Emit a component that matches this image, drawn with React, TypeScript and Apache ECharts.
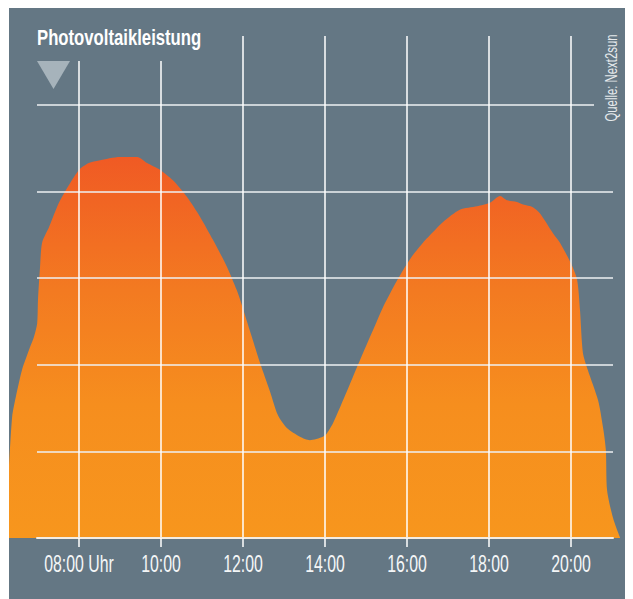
import React, { useEffect, useRef } from "react";
import * as echarts from "echarts";

// Time of day (hours) and PV output (in grid-line units)
const hours = [
  6.29, 6.37, 6.46, 6.61, 6.78, 6.9, 6.98, 7.0, 7.05, 7.1, 7.27, 7.51, 7.76, 8.0,
  8.24, 8.49, 9.0, 9.42, 9.66, 9.98, 10.29, 10.63, 10.95, 11.27, 11.61, 11.85, 11.93,
  12.17, 12.41, 12.66, 12.85, 13.07, 13.39, 13.63, 13.95, 14.05, 14.2, 14.44, 14.68,
  14.93, 15.17, 15.41, 15.66, 15.9, 16.15, 16.39, 16.63, 16.88, 17.29, 17.71, 18.02,
  18.27, 18.44, 18.68, 18.83, 19.07, 19.24, 19.56, 19.73, 20.02, 20.15, 20.22, 20.29,
  20.41, 20.66, 20.78, 20.85, 20.88, 21.02, 21.2,
];
const output = [
  0.79, 1.4, 1.63, 1.94, 2.17, 2.32, 2.48, 2.75, 3.13, 3.41, 3.59, 3.87, 4.08, 4.25,
  4.33, 4.36, 4.4, 4.4, 4.33, 4.25, 4.13, 3.94, 3.71, 3.44, 3.13, 2.86, 2.75,
  2.39, 2.03, 1.69, 1.42, 1.27, 1.17, 1.13, 1.17, 1.21, 1.33, 1.59, 1.86,
  2.14, 2.4, 2.66, 2.89, 3.09, 3.27, 3.41, 3.53, 3.65, 3.79, 3.83, 3.87,
  3.95, 3.9, 3.88, 3.85, 3.82, 3.75, 3.52, 3.41, 3.15, 2.98, 2.63, 2.14,
  1.94, 1.59, 1.28, 1.02, 0.55, 0.24, 0,
];
const tickHours = [8, 10, 12, 14, 16, 18, 20];
const tickLabels = ["08:00 Uhr", "10:00", "12:00", "14:00", "16:00", "18:00", "20:00"];
const titleText = "Photovoltaikleistung";
const sourceText = "Quelle: Next2sun";

const BG = "#647784";
const FONT = "'Liberation Sans', Arial, sans-serif";

export default function App() {
  const ref = useRef<HTMLDivElement>(null);
  useEffect(() => {
    document.documentElement.style.overflow = "hidden";
    document.body.style.overflow = "hidden";
    const chart = echarts.init(ref.current!, null, { renderer: "svg" });
    const staticGraphics: any[] = [
      { type: "rect", z: 6, shape: { x: 21, y: 20, width: 180, height: 33 }, style: { fill: BG } },
      { type: "rect", z: 6, shape: { x: 585, y: 22, width: 35, height: 100 }, style: { fill: BG } },
      {
        type: "polygon",
        z: 7,
        shape: { points: [[28, 53], [61, 53], [44.5, 81]] },
        style: { fill: "#a6b3bb" },
      },
      {
        type: "text",
        z: 8,
        x: 28,
        y: 29,
        scaleX: 0.76,
        style: {
          text: titleText,
          fill: "#ffffff",
          fontSize: 22,
          fontWeight: "bold",
          fontFamily: FONT,
          align: "left",
          verticalAlign: "middle",
        },
      },
      {
        type: "text",
        z: 7,
        x: 602.5,
        y: 70,
        rotation: Math.PI / 2,
        scaleX: 0.71,
        style: {
          text: sourceText,
          fill: "#e6eaec",
          fontSize: 16,
          fontFamily: FONT,
          align: "center",
          verticalAlign: "middle",
        },
      },
    ];
    const option: any = {
      animation: false,
      backgroundColor: BG,
      grid: [
        { left: -12, right: -20, top: 28, bottom: 61, outerBoundsMode: "none", containLabel: false },
        { left: 28, right: 20, top: 28, bottom: 61, outerBoundsMode: "none", containLabel: false },
      ],
      xAxis: [
        {
          type: "value",
          gridIndex: 0,
          min: 6,
          max: 22,
          interval: 2,
          z: 5,
          axisLine: { show: false },
          axisTick: { show: true, length: 9, lineStyle: { color: "#ffffff", width: 1.5 } },
          splitLine: { show: true, lineStyle: { color: "#ffffff", width: 1.5 } },
          axisLabel: { show: false },
        },
        {
          type: "value",
          gridIndex: 1,
          min: 0,
          max: 1,
          z: 5,
          axisLine: { show: true, lineStyle: { color: "#f3ece3", width: 2 } },
          axisTick: { show: false },
          axisLabel: { show: false },
          splitLine: { show: false },
        },
      ],
      yAxis: [
        { type: "value", gridIndex: 0, min: 0, max: 5.797, show: false, splitLine: { show: false } },
        {
          type: "value",
          gridIndex: 1,
          min: 0,
          max: 5.797,
          interval: 1,
          z: 5,
          axisLine: { show: false },
          axisTick: { show: false },
          axisLabel: { show: false },
          splitLine: {
            show: true,
            showMinLine: false,
            showMaxLine: false,
            lineStyle: { color: "#eef1f3", width: 1.5 },
          },
        },
      ],
      series: [
        {
          type: "line",
          xAxisIndex: 0,
          yAxisIndex: 0,
          data: hours.map((h, i) => [h, output[i]]),
          symbol: "none",
          smooth: 0.25,
          lineStyle: { width: 0 },
          z: 2,
          areaStyle: {
            opacity: 1,
            color: new echarts.graphic.LinearGradient(0, 0, 0, 1, [
              { offset: 0, color: "#f05a24" },
              { offset: 0.35, color: "#f37a21" },
              { offset: 0.65, color: "#f68e1e" },
              { offset: 1, color: "#f7961d" },
            ]),
          },
        },
      ],
      graphic: staticGraphics,
    };
    chart.setOption(option);
    const labels = tickHours.map((h, i) => {
      const p = chart.convertToPixel({ gridIndex: 0 }, [h, 0]) as number[];
      return {
        type: "text",
        z: 7,
        x: p[0],
        y: p[1] + 25.5,
        scaleX: 0.69,
        style: {
          text: tickLabels[i],
          fill: "#f4f6f7",
          fontSize: 23,
          fontFamily: FONT,
          align: "center",
          verticalAlign: "middle",
        },
      };
    });
    chart.setOption({ graphic: [...staticGraphics, ...labels] });
    return () => chart.dispose();
  }, []);
  return <div ref={ref} style={{ width: 624, height: 591, marginLeft: 1 }} />;
}
